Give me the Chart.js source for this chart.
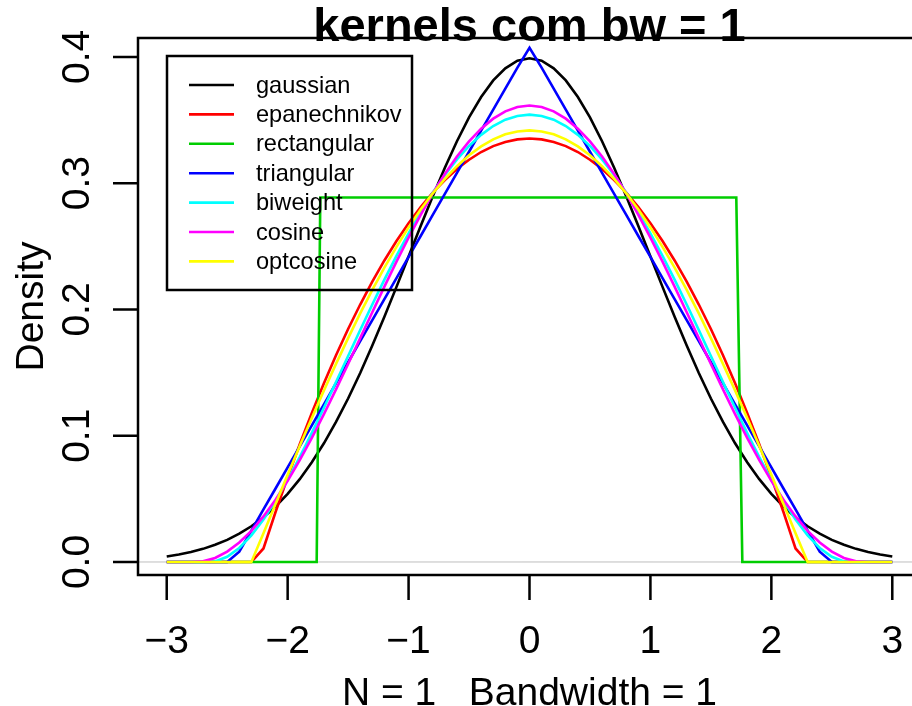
<!DOCTYPE html>
<html>
<head>
<meta charset="utf-8">
<title>kernels com bw = 1</title>
<script src="https://cdn.jsdelivr.net/npm/chart.js@4.4.1/dist/chart.umd.min.js"></script>
<style>
  html, body { margin: 0; padding: 0; background: #fff; overflow: hidden; }
  canvas { display: block; }
</style>
</head>
<body>
<canvas id="kernelChart" width="912" height="706"></canvas>
<script>
// density grid (x) and the kernel curves, bw = 1
const xs = [-3, -2.9, -2.8, -2.7, -2.6, -2.5, -2.4, -2.3, -2.2, -2.1, -2, -1.9, -1.8, -1.7, -1.6, -1.5, -1.4, -1.3, -1.2, -1.1, -1, -0.9, -0.8, -0.7, -0.6, -0.5, -0.4, -0.3, -0.2, -0.1, 0,
            0.1, 0.2, 0.3, 0.4, 0.5, 0.6, 0.7, 0.8, 0.9, 1, 1.1, 1.2, 1.3, 1.4, 1.5, 1.6, 1.7, 1.8, 1.9, 2, 2.1, 2.2, 2.3, 2.4, 2.5, 2.6, 2.7, 2.8, 2.9, 3];

const gaussian = [0.0044, 0.0060, 0.0079, 0.0104, 0.0136, 0.0175, 0.0224, 0.0283, 0.0355, 0.0440, 0.0540, 0.0656, 0.0790, 0.0940, 0.1109, 0.1295, 0.1497, 0.1714, 0.1942, 0.2179, 0.2420, 0.2661, 0.2897, 0.3123, 0.3332, 0.3521, 0.3683, 0.3814, 0.3910, 0.3970, 0.3989,
                  0.3970, 0.3910, 0.3814, 0.3683, 0.3521, 0.3332, 0.3123, 0.2897, 0.2661, 0.2420, 0.2179, 0.1942, 0.1714, 0.1497, 0.1295, 0.1109, 0.0940, 0.0790, 0.0656, 0.0540, 0.0440, 0.0355, 0.0283, 0.0224, 0.0175, 0.0136, 0.0104, 0.0079, 0.0060, 0.0044];

const epanechnikov = [0, 0, 0, 0, 0, 0, 0, 0, 0.0107, 0.0396, 0.0671, 0.0932, 0.1181, 0.1415, 0.1637, 0.1845, 0.2039, 0.2220, 0.2388, 0.2542, 0.2683, 0.2811, 0.2925, 0.3025, 0.3113, 0.3186, 0.3247, 0.3294, 0.3327, 0.3347, 0.3354,
                      0.3347, 0.3327, 0.3294, 0.3247, 0.3186, 0.3113, 0.3025, 0.2925, 0.2811, 0.2683, 0.2542, 0.2388, 0.2220, 0.2039, 0.1845, 0.1637, 0.1415, 0.1181, 0.0932, 0.0671, 0.0396, 0.0107, 0, 0, 0, 0, 0, 0, 0, 0];

// rectangular is a box, so it keeps its own corner points
const rectX = [-3, -1.76, -1.73, 1.71, 1.76, 3];
const rectY = [0, 0, 0.2887, 0.2887, 0, 0];

const triangular = [0, 0, 0, 0, 0, 0, 0.0082, 0.0249, 0.0416, 0.0582, 0.0749, 0.0916, 0.1082, 0.1249, 0.1416, 0.1582, 0.1749, 0.1916, 0.2082, 0.2249, 0.2416, 0.2582, 0.2749, 0.2916, 0.3082, 0.3249, 0.3416, 0.3582, 0.3749, 0.3916, 0.4072,
                    0.3916, 0.3749, 0.3582, 0.3416, 0.3249, 0.3082, 0.2916, 0.2749, 0.2582, 0.2416, 0.2249, 0.2082, 0.1916, 0.1749, 0.1582, 0.1416, 0.1249, 0.1082, 0.0916, 0.0749, 0.0582, 0.0416, 0.0249, 0.0082, 0, 0, 0, 0, 0, 0];

const biweight = [0, 0, 0, 0, 0.0004, 0.0041, 0.0111, 0.0211, 0.0337, 0.0485, 0.0651, 0.0831, 0.1022, 0.1222, 0.1426, 0.1632, 0.1837, 0.2039, 0.2236, 0.2424, 0.2603, 0.2771, 0.2925, 0.3065, 0.3188, 0.3295, 0.3383, 0.3453, 0.3503, 0.3533, 0.3543,
                  0.3533, 0.3503, 0.3453, 0.3383, 0.3295, 0.3188, 0.3065, 0.2925, 0.2771, 0.2603, 0.2424, 0.2236, 0.2039, 0.1837, 0.1632, 0.1426, 0.1222, 0.1022, 0.0831, 0.0651, 0.0485, 0.0337, 0.0211, 0.0111, 0.0041, 0.0004, 0, 0, 0, 0];

const cosine = [0, 0, 0, 0.0005, 0.0032, 0.0082, 0.0154, 0.0247, 0.0361, 0.0493, 0.0642, 0.0806, 0.0983, 0.1171, 0.1367, 0.1568, 0.1773, 0.1978, 0.2181, 0.2379, 0.2569, 0.2750, 0.2919, 0.3073, 0.3211, 0.3331, 0.3432, 0.3511, 0.3569, 0.3603, 0.3615,
                0.3603, 0.3569, 0.3511, 0.3432, 0.3331, 0.3211, 0.3073, 0.2919, 0.2750, 0.2569, 0.2379, 0.2181, 0.1978, 0.1773, 0.1568, 0.1367, 0.1171, 0.0983, 0.0806, 0.0642, 0.0493, 0.0361, 0.0247, 0.0154, 0.0082, 0.0032, 0.0005, 0, 0, 0];

const optcosine = [0, 0, 0, 0, 0, 0, 0, 0, 0.0228, 0.0460, 0.0691, 0.0918, 0.1141, 0.1358, 0.1569, 0.1773, 0.1969, 0.2155, 0.2331, 0.2496, 0.2650, 0.2791, 0.2920, 0.3034, 0.3135, 0.3221, 0.3291, 0.3347, 0.3387, 0.3410, 0.3418,
                   0.3410, 0.3387, 0.3347, 0.3291, 0.3221, 0.3135, 0.3034, 0.2920, 0.2791, 0.2650, 0.2496, 0.2331, 0.2155, 0.1969, 0.1773, 0.1569, 0.1358, 0.1141, 0.0918, 0.0691, 0.0460, 0.0228, 0, 0, 0, 0, 0, 0, 0, 0];

const kernelNames = ["gaussian", "epanechnikov", "rectangular", "triangular", "biweight", "cosine", "optcosine"];
const kernelColors = ["#000000", "#FF0000", "#00CD00", "#0000FF", "#00FFFF", "#FF00FF", "#FFFF00"];

const xTicks = [-3, -2, -1, 0, 1, 2, 3];
const xTickLabels = ["\u22123", "\u22122", "\u22121", "0", "1", "2", "3"];
const yTicks = [0, 0.1, 0.2, 0.3, 0.4];
const yTickLabels = ["0.0", "0.1", "0.2", "0.3", "0.4"];

const titleText = "kernels com bw = 1";
const xTitle = "N = 1   Bandwidth = 1";
const yTitle = "Density";

const FONT = "'Liberation Sans', Arial, Helvetica, sans-serif";

function toPoints(xv, yv) {
  return xv.map((x, i) => ({ x: x, y: yv[i] }));
}

const curves = [
  toPoints(xs, gaussian),
  toPoints(xs, epanechnikov),
  toPoints(rectX, rectY),
  toPoints(xs, triangular),
  toPoints(xs, biweight),
  toPoints(xs, cosine),
  toPoints(xs, optcosine),
];

// later kernels sit on top of earlier ones
const datasets = curves.map((pts, i) => ({
  label: kernelNames[i],
  data: pts,
  borderColor: kernelColors[i],
  backgroundColor: kernelColors[i],
  borderWidth: 2.6,
  pointRadius: 0,
  tension: 0,
  fill: false,
  order: kernelNames.length - i,
}));

// zero line under the curves
const zeroLine = {
  id: "zeroLine",
  beforeDatasetsDraw(chart) {
    const { ctx, chartArea, scales } = chart;
    const y = scales.y.getPixelForValue(0);
    ctx.save();
    ctx.strokeStyle = "#BEBEBE";
    ctx.lineWidth = 1;
    ctx.beginPath();
    ctx.moveTo(chartArea.left, y);
    ctx.lineTo(chartArea.right, y);
    ctx.stroke();
    ctx.restore();
  },
};

// box, axes, titles and legend drawn in base-graphics style
const frame = {
  id: "frame",
  afterDraw(chart) {
    const { ctx, chartArea, scales } = chart;
    const xs_ = scales.x, ys_ = scales.y;
    const L = chartArea.left, T = chartArea.top, R = chartArea.right, B = chartArea.bottom;
    ctx.save();
    ctx.strokeStyle = "#000";
    ctx.fillStyle = "#000";
    ctx.lineWidth = 2.5;
    ctx.lineCap = "butt";

    // box (right side falls outside the canvas)
    ctx.beginPath();
    ctx.moveTo(R + 5, T);
    ctx.lineTo(L, T);
    ctx.lineTo(L, B);
    ctx.lineTo(R + 5, B);
    ctx.stroke();

    const tick = 25;
    // x axis ticks
    ctx.beginPath();
    xTicks.forEach((v) => {
      const px = xs_.getPixelForValue(v);
      ctx.moveTo(px, B);
      ctx.lineTo(px, B + tick);
    });
    // y axis ticks
    yTicks.forEach((v) => {
      const py = ys_.getPixelForValue(v);
      ctx.moveTo(L, py);
      ctx.lineTo(L - tick, py);
    });
    ctx.stroke();

    ctx.font = "39px " + FONT;
    ctx.textAlign = "center";
    ctx.textBaseline = "alphabetic";
    xTicks.forEach((v, i) => {
      ctx.fillText(xTickLabels[i], xs_.getPixelForValue(v), 653);
    });
    yTicks.forEach((v, i) => {
      ctx.save();
      ctx.translate(89, ys_.getPixelForValue(v));
      ctx.rotate(-Math.PI / 2);
      ctx.fillText(yTickLabels[i], 0, 0);
      ctx.restore();
    });

    // axis titles
    const midX = xs_.getPixelForValue(0);
    ctx.fillText(xTitle, midX, 705);
    ctx.save();
    ctx.translate(43, (T + B) / 2);
    ctx.rotate(-Math.PI / 2);
    ctx.fillText(yTitle, 0, 0);
    ctx.restore();

    // main title
    ctx.font = "bold 47px " + FONT;
    ctx.fillText(titleText, midX, 41);

    // legend
    const lx = 167, ly = 56, lw = 245, lh = 234;
    ctx.lineWidth = 2.5;
    ctx.strokeRect(lx, ly, lw, lh);
    ctx.font = "23.6px " + FONT;
    ctx.textAlign = "left";
    ctx.textBaseline = "middle";
    chart.data.datasets.forEach((ds, i) => {
      const ry = 85 + i * 29.4;
      ctx.strokeStyle = ds.borderColor;
      ctx.lineWidth = 2.6;
      ctx.beginPath();
      ctx.moveTo(189, ry);
      ctx.lineTo(234, ry);
      ctx.stroke();
      ctx.fillStyle = "#000";
      ctx.fillText(ds.label, 256, ry + 1);
    });
    ctx.restore();
  },
};

const chart = new Chart(document.getElementById("kernelChart").getContext("2d"), {
  type: "line",
  data: { datasets: datasets },
  options: {
    responsive: false,
    animation: false,
    parsing: true,
    layout: { padding: { left: 138, top: 38, right: 0, bottom: 131 } },
    plugins: {
      legend: { display: false },
      tooltip: { enabled: false },
    },
    scales: {
      x: { type: "linear", display: false, min: -3.2375, max: 3.163 },
      y: { type: "linear", display: false, min: -0.0103, max: 0.415 },
    },
  },
  plugins: [zeroLine, frame],
});
</script>
</body>
</html>
